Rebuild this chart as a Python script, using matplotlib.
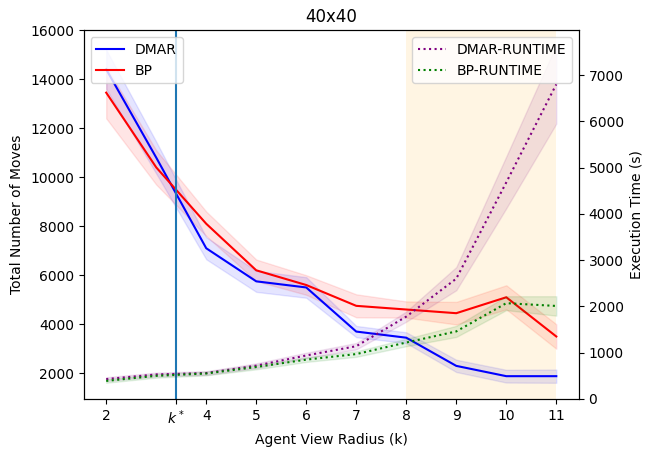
import numpy as np
import matplotlib
matplotlib.use('Agg')
import matplotlib.pyplot as plt

# agent view radius
radius = [2, 3, 4, 5, 6, 7, 8, 9, 10, 11]
k_star = 3.4

# total number of moves (mean, std)
dmar_moves = [14400, 10800, 7100, 5750, 5500, 3700, 3450, 2300, 1880, 1880]
dmar_moves_std = [800, 650, 450, 430, 420, 230, 220, 250, 260, 270]
bp_moves = [13450, 10400, 8100, 6200, 5600, 4750, 4600, 4450, 5100, 3500]
bp_moves_std = [1050, 700, 500, 440, 400, 470, 330, 460, 490, 500]

# execution time in seconds (mean, std)
dmar_time = [430, 530, 560, 720, 940, 1140, 1780, 2600, 4680, 6800]
dmar_time_std = [40, 40, 40, 50, 60, 70, 110, 250, 560, 850]
bp_time = [390, 500, 550, 690, 850, 970, 1220, 1460, 2070, 2010]
bp_time_std = [40, 40, 40, 50, 50, 60, 80, 120, 150, 210]

x = np.array(radius)

fig, ax = plt.subplots(figsize=(6.54, 4.57), dpi=100)
fig.subplots_adjust(left=0.128, right=0.885, top=0.934, bottom=0.127)

ax.plot(x, dmar_moves, color='blue', label='DMAR')
ax.fill_between(x, np.subtract(dmar_moves, dmar_moves_std),
                np.add(dmar_moves, dmar_moves_std), color='blue', alpha=0.1)
ax.plot(x, bp_moves, color='red', label='BP')
ax.fill_between(x, np.subtract(bp_moves, bp_moves_std),
                np.add(bp_moves, bp_moves_std), color='red', alpha=0.1)
ax.axvline(k_star, color='tab:blue')
ax.axvspan(8, 11, color='orange', alpha=0.11, lw=0)

ax.set_ylim(950, 16000)
ax.set_xticks([2, k_star, 4, 5, 6, 7, 8, 9, 10, 11])
ax.set_xticklabels(['2', '$k^*$', '4', '5', '6', '7', '8', '9', '10', '11'])
ax.set_xlabel('Agent View Radius (k)')
ax.set_ylabel('Total Number of Moves')
ax.set_title('40x40')
ax.legend(loc='upper left')

ax2 = ax.twinx()
ax2.plot(x, dmar_time, color='purple', linestyle=':', label='DMAR-RUNTIME')
ax2.fill_between(x, np.subtract(dmar_time, dmar_time_std),
                 np.add(dmar_time, dmar_time_std), color='purple', alpha=0.1)
ax2.plot(x, bp_time, color='green', linestyle=':', label='BP-RUNTIME')
ax2.fill_between(x, np.subtract(bp_time, bp_time_std),
                 np.add(bp_time, bp_time_std), color='green', alpha=0.1)
ax2.set_ylim(0, 7970)
ax2.set_ylabel('Execution Time (s)')
ax2.legend(loc='upper right')

fig.savefig('out.png', dpi=100)
